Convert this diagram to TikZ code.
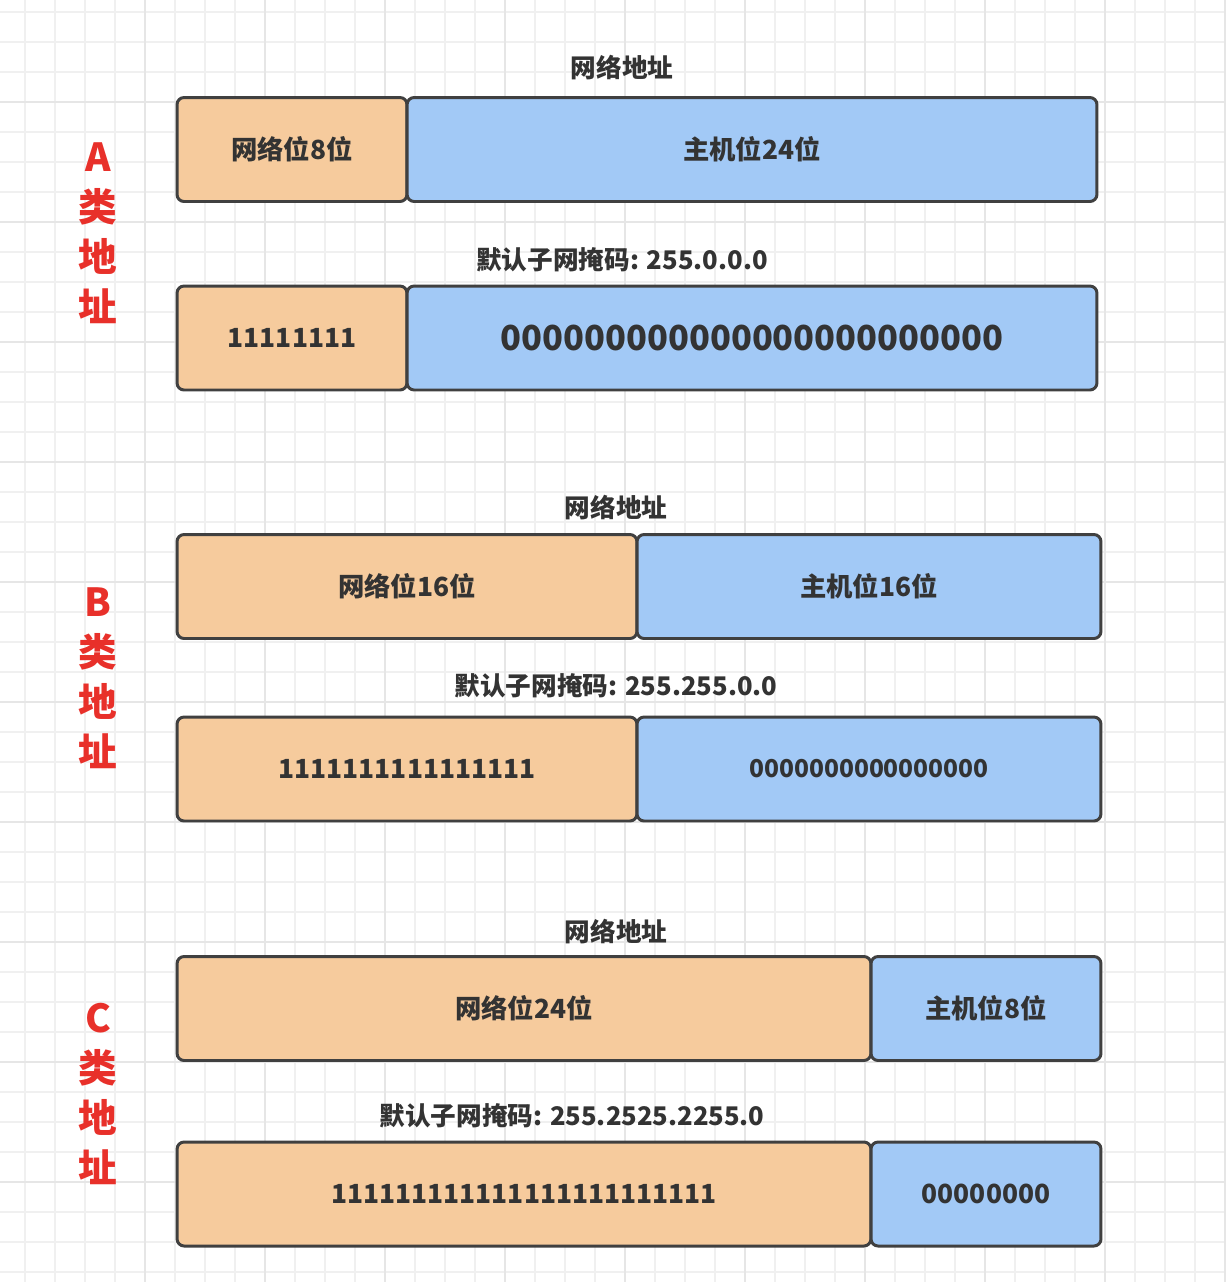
\documentclass[tikz,border=0pt]{standalone}
\usepackage{fontspec}
\setmainfont{Noto Sans CJK SC}
\usepackage{xcolor}
\usetikzlibrary{positioning}
\definecolor{netfill}{HTML}{F6CB9D}
\definecolor{hostfill}{HTML}{A2C9F6}
\definecolor{boxline}{HTML}{404040}
\definecolor{txt}{HTML}{333333}
\definecolor{classred}{HTML}{E8302A}
\definecolor{gridminor}{HTML}{F0F0F0}
\definecolor{gridmajor}{HTML}{E6E6E6}

\begin{document}
\begin{tikzpicture}[
    x=0.02cm, y=-0.02cm,
    netbox/.style={rectangle, draw=boxline, line width=1.7pt, rounded corners=4pt, fill=netfill,
        minimum height=2.08cm, inner sep=0pt, text=txt, font=\bfseries\fontsize{15}{17}\selectfont},
    hostbox/.style={netbox, fill=hostfill},
    bits/.style={font=\bfseries\fontsize{15}{17}\selectfont},
    caption/.style={text=txt, font=\bfseries\fontsize{14.6}{17}\selectfont},
    classlabel/.style={text=classred, align=center, font=\bfseries\fontsize{22}{28.4}\selectfont}
]

% background grid
\useasboundingbox[fill=white] (0,0) rectangle (1226,1282);
\foreach \gx in {25,55,...,1225} \draw[gridminor, line width=0.6pt] (\gx,0) -- (\gx,1282);
\foreach \gy in {12,42,...,1272} \draw[gridminor, line width=0.6pt] (0,\gy) -- (1226,\gy);
\foreach \gx in {145,265,...,1225} \draw[gridmajor, line width=0.8pt] (\gx,0) -- (\gx,1282);
\foreach \gy in {102,222,...,1272} \draw[gridmajor, line width=0.8pt] (0,\gy) -- (1226,\gy);

% Class A
\node[classlabel] (alabel) at (98,233) {A\\类\\地\\址};
\node[caption] (atitle) at (622,68) {网络地址};
\node[netbox, minimum width=4.6cm] (anet) at (292,149.5) {网络位8位};
\node[hostbox, minimum width=13.8cm] (ahost) at (752,149.5) {主机位24位};
\node[caption] (amask) at (622,260) {默认子网掩码: 255.0.0.0};
\node[netbox, bits, minimum width=4.6cm] (aones) at (292,338) {11111111};
\node[hostbox, minimum width=13.8cm, font=\bfseries\fontsize{19.6}{22}\selectfont] (azeros) at (752,338) {000000000000000000000000};

% Class B
\node[classlabel] (blabel) at (98,678) {B\\类\\地\\址};
\node[caption] (btitle) at (616,508) {网络地址};
\node[netbox, minimum width=9.2cm] (bnet) at (407,586.5) {网络位16位};
\node[hostbox, minimum width=9.28cm] (bhost) at (869,586.5) {主机位16位};
\node[caption] (bmask) at (616,686) {默认子网掩码: 255.255.0.0};
\node[netbox, bits, minimum width=9.2cm] (bones) at (407,769) {1111111111111111};
\node[hostbox, minimum width=9.28cm, font=\bfseries\fontsize{14}{17}\selectfont] (bzeros) at (869,769) {0000000000000000};

% Class C
\node[classlabel] (clabel) at (98,1094) {C\\类\\地\\址};
\node[caption] (ctitle) at (616,932) {网络地址};
\node[netbox, minimum width=13.88cm] (cnet) at (524,1008.5) {网络位24位};
\node[hostbox, minimum width=4.6cm] (chost) at (986,1008.5) {主机位8位};
\node[caption] (cmask) at (572,1116) {默认子网掩码: 255.2525.2255.0};
\node[netbox, bits, minimum width=13.88cm] (cones) at (524,1194) {111111111111111111111111};
\node[hostbox, bits, minimum width=4.6cm] (czeros) at (986,1194) {00000000};

\end{tikzpicture}
\end{document}
